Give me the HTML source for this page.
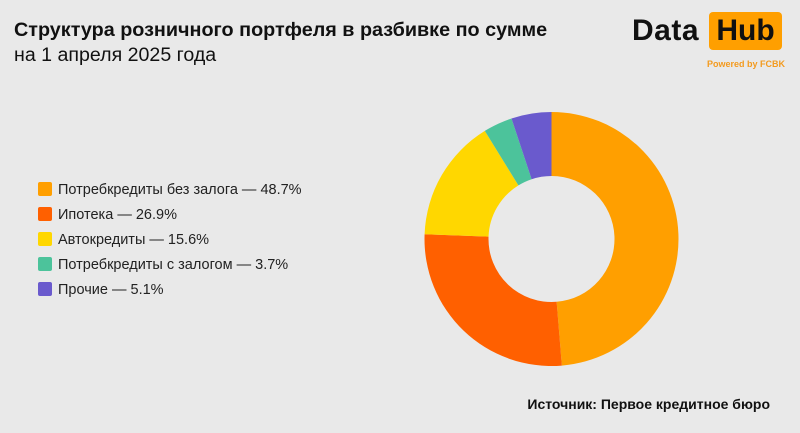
<!DOCTYPE html>
<html><head><meta charset="utf-8"><style>
body{margin:0;width:800px;height:433px;background:#e9e9e9;font-family:"Liberation Sans",sans-serif;position:relative;overflow:hidden;color:#111}
.t{position:absolute;left:14px;top:19px;font-size:19.8px;font-weight:bold}
.s{position:absolute;left:14px;top:44px;font-size:19.6px}
.lg{position:absolute;left:38px;font-size:14.5px;color:#222;line-height:16px}
.lg i{display:inline-block;width:14px;height:14px;border-radius:2px;vertical-align:-2px;margin-right:6px}
.src{position:absolute;right:30px;top:396px;font-size:14px;font-weight:bold}
</style></head><body>
<div class="t">Структура розничного портфеля в разбивке по сумме</div>
<div class="s">на 1 апреля 2025 года</div>
<div style="position:absolute;left:632px;top:14px;font-size:30px;font-weight:bold;letter-spacing:0.5px">Data</div>
<div style="position:absolute;left:709px;top:12px;width:73px;height:38px;background:#ff9f00;border-radius:4px;font-size:30px;font-weight:bold;text-align:center;line-height:38px">Hub</div>
<div style="position:absolute;left:707px;top:59px;font-size:9px;font-weight:bold;color:#f39a1e">Powered by FCBK</div>
<div class="lg" style="top:182px"><i style="background:#ff9f00"></i>Потребкредиты без залога — 48.7%</div>
<div class="lg" style="top:207px"><i style="background:#ff6000"></i>Ипотека — 26.9%</div>
<div class="lg" style="top:232px"><i style="background:#ffd700"></i>Автокредиты — 15.6%</div>
<div class="lg" style="top:257px"><i style="background:#4cc39b"></i>Потребкредиты с залогом — 3.7%</div>
<div class="lg" style="top:282px"><i style="background:#6a5acd"></i>Прочие — 5.1%</div>
<svg id="d" width="800" height="433" style="position:absolute;left:0;top:0"></svg>
<div class="src">Источник: Первое кредитное бюро</div>
<script>
var v=[48.7,26.9,15.6,3.7,5.1],c=["#ff9f00","#ff6000","#ffd700","#4cc39b","#6a5acd"];
var cx=551.5,cy=239,R=127,r=63,a=0,s="";
function p(rad,ang){return [cx+rad*Math.sin(ang),cy-rad*Math.cos(ang)];}
for(var i=0;i<5;i++){var a0=a/100*2*Math.PI;a+=v[i];var a1=a/100*2*Math.PI;var l=(a1-a0)>Math.PI?1:0;
var A=p(R,a0),B=p(R,a1),C=p(r,a1),D=p(r,a0);
s+='<path fill="'+c[i]+'" d="M'+A+' A'+R+','+R+' 0 '+l+' 1 '+B+' L'+C+' A'+r+','+r+' 0 '+l+' 0 '+D+'Z"/>';}
document.getElementById("d").innerHTML=s;
</script>
</body></html>
